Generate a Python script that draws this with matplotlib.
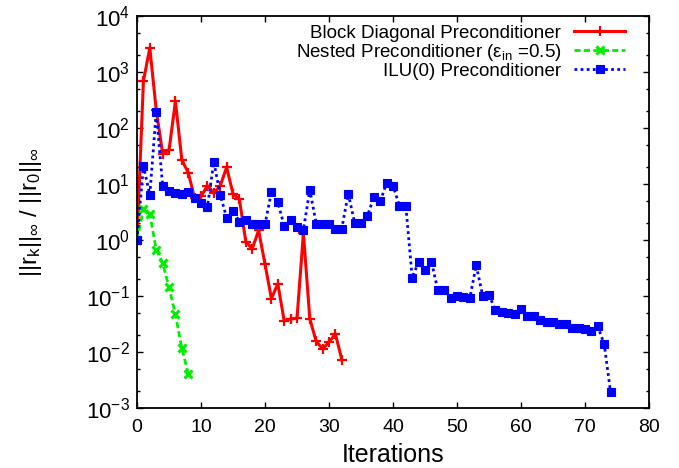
import numpy as np
import matplotlib
matplotlib.use("Agg")
import matplotlib.pyplot as plt
from matplotlib.ticker import FixedLocator, NullFormatter, MultipleLocator

plt.rcParams['font.family'] = ['Liberation Sans', 'DejaVu Sans']
plt.rcParams['mathtext.fontset'] = 'custom'
plt.rcParams['mathtext.rm'] = 'Liberation Sans'
plt.rcParams['mathtext.it'] = 'Liberation Sans'
plt.rcParams['mathtext.default'] = 'regular'

# residual histories
block_diag = [1, 690, 2700, 210, 35, 40, 300, 27, 16, 5.6,
              6.0, 9.3, 6.9, 9.2, 20, 6.7, 5.3, 0.94, 0.70, 1.48,
              0.37, 0.090, 0.165, 0.036, 0.039, 0.040, 1.33, 0.039, 0.0155, 0.0114,
              0.0150, 0.021, 0.0073]
nested = [1, 3.55, 2.9, 0.67, 0.39, 0.142, 0.047, 0.0118, 0.0041]
ilu0 = [1, 21, 6.4, 196, 9.4, 7.6, 7.0, 6.6, 7.2, 5.6,
        4.55, 3.87, 25, 6.4, 2.52, 3.3, 2.14, 2.3, 1.97, 1.92,
        1.92, 7.2, 4.7, 1.79, 2.23, 1.70, 1.52, 7.85, 1.97, 1.95,
        1.92, 1.6, 1.6, 6.75, 2.05, 2.0, 2.7, 5.8, 4.9, 10.4,
        9.4, 4.1, 4.12, 0.212, 0.41, 0.294, 0.41, 0.129, 0.128, 0.094,
        0.098, 0.097, 0.091, 0.356, 0.102, 0.104, 0.056, 0.051, 0.049, 0.047,
        0.058, 0.044, 0.044, 0.0367, 0.0347, 0.0343, 0.032, 0.031, 0.0272, 0.0268,
        0.026, 0.0234, 0.0286, 0.0139, 0.0019]

labels = ["Block Diagonal Preconditioner",
          r"Nested Preconditioner ($\varepsilon_{in}$ =0.5)",
          "ILU(0) Preconditioner"]
decades = np.arange(-3, 5)

fig = plt.figure(figsize=(6.79, 4.68), dpi=100)
fig.subplots_adjust(left=0.2018, right=0.9558, top=0.9658, bottom=0.1282)
ax = fig.add_subplot(111)

ax.plot(np.arange(len(block_diag)), block_diag, color="#ff0000", ls="-", lw=2.2,
        marker="+", ms=7, mew=1.6, label=labels[0])
ax.plot(np.arange(len(nested)), nested, color="#00ee00", ls=(0, (2.2, 1.2)), lw=2,
        marker="x", ms=5.5, mew=2.2, label=labels[1])
ax.plot(np.arange(len(ilu0)), ilu0, color="#0000ff", ls=(0, (1, 1.2)), lw=2,
        marker="s", ms=5.5, mew=0.8, label=labels[2])

ax.set_yscale("log")
ax.set_xlim(0, 80)
ax.set_ylim(1e-3, 1e4)
ax.xaxis.set_major_locator(MultipleLocator(10))
ax.yaxis.set_major_locator(FixedLocator(10.0 ** decades))
minor = [s * 10.0 ** d for d in decades[:-1] for s in (2, 5)]
ax.yaxis.set_minor_locator(FixedLocator(minor))
ax.yaxis.set_minor_formatter(NullFormatter())
ax.tick_params(which="both", direction="in", top=True, right=True)
ax.tick_params(axis="x", labelsize=14, pad=8)
ax.tick_params(axis="y", labelsize=16, pad=5)
ax.tick_params(which="major", length=4.5, width=1)
ax.tick_params(which="minor", length=2.5, width=1)
for s in ax.spines.values():
    s.set_linewidth(1.3)

ax.set_xlabel("Iterations", fontsize=18, labelpad=5)
ax.set_ylabel(r"$||r_k||_\infty$ / $||r_0||_\infty$", fontsize=17, labelpad=30)

ax.legend(loc="upper right", bbox_to_anchor=(0.953, 0.978), frameon=False,
          markerfirst=False, numpoints=1, fontsize=13.5, handlelength=2.7,
          handletextpad=0.7, labelspacing=0.0, borderaxespad=0, borderpad=0)

fig.savefig("out.png", dpi=100)
